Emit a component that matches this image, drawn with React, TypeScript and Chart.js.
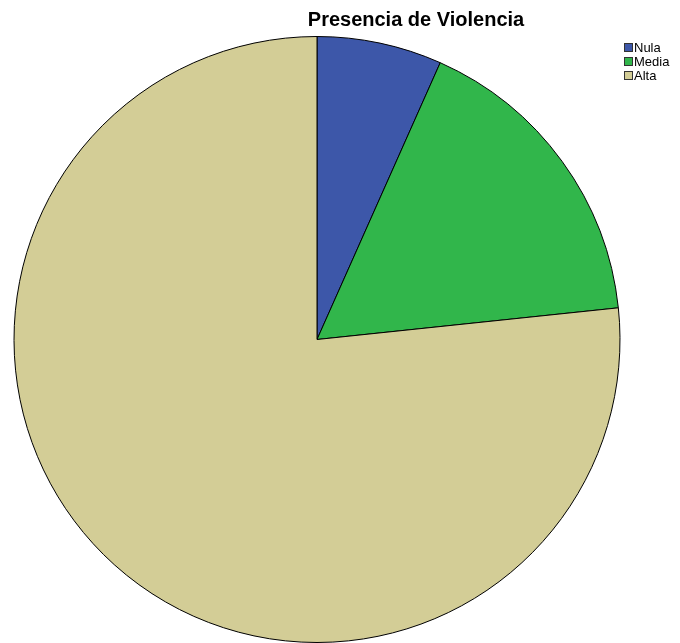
import React, { useEffect, useRef } from "react";
import { Chart, registerables } from "chart.js";

Chart.register(...registerables);

const categories = ["Nula", "Media", "Alta"];
const values = [4, 10, 46];
const colors = ["#3d57a9", "#31b64b", "#d3cd96"];
const title = "Presencia de Violencia";

const overlay = {
  id: "overlay",
  afterDraw(chart: any) {
    const ctx = chart.ctx;
    ctx.save();
    ctx.fillStyle = "#000";
    ctx.font = "bold 20px Arial, 'Liberation Sans', sans-serif";
    ctx.textAlign = "center";
    ctx.textBaseline = "alphabetic";
    ctx.fillText(title, 416, 26);
    ctx.font = "13px Arial, 'Liberation Sans', sans-serif";
    ctx.textAlign = "left";
    ctx.textBaseline = "middle";
    categories.forEach((c, i) => {
      const top = 43 + i * 14;
      ctx.fillStyle = colors[i];
      ctx.fillRect(624, top, 9, 9);
      ctx.strokeStyle = "#333";
      ctx.lineWidth = 1;
      ctx.strokeRect(624.5, top + 0.5, 8, 8);
      ctx.fillStyle = "#000";
      ctx.fillText(c, 634, top + 5);
    });
    ctx.restore();
  },
};

export default function App() {
  const ref = useRef<HTMLCanvasElement>(null);
  useEffect(() => {
    document.body.style.margin = "0";
    const chart = new Chart(ref.current!, {
      type: "pie",
      data: {
        labels: categories,
        datasets: [
          {
            data: values,
            backgroundColor: colors,
            borderColor: "#000",
            borderWidth: 1,
          },
        ],
      },
      options: {
        animation: false,
        responsive: false,
        layout: { padding: { left: 13, right: 59, top: 36, bottom: 0 } },
        plugins: {
          legend: { display: false },
          title: { display: false },
          tooltip: { enabled: false },
        },
      },
      plugins: [overlay],
    });
    return () => chart.destroy();
  }, []);
  return (
    <div style={{ width: 680, height: 643, background: "#fff" }}>
      <canvas ref={ref} width={680} height={643} style={{ display: "block" }} />
    </div>
  );
}
